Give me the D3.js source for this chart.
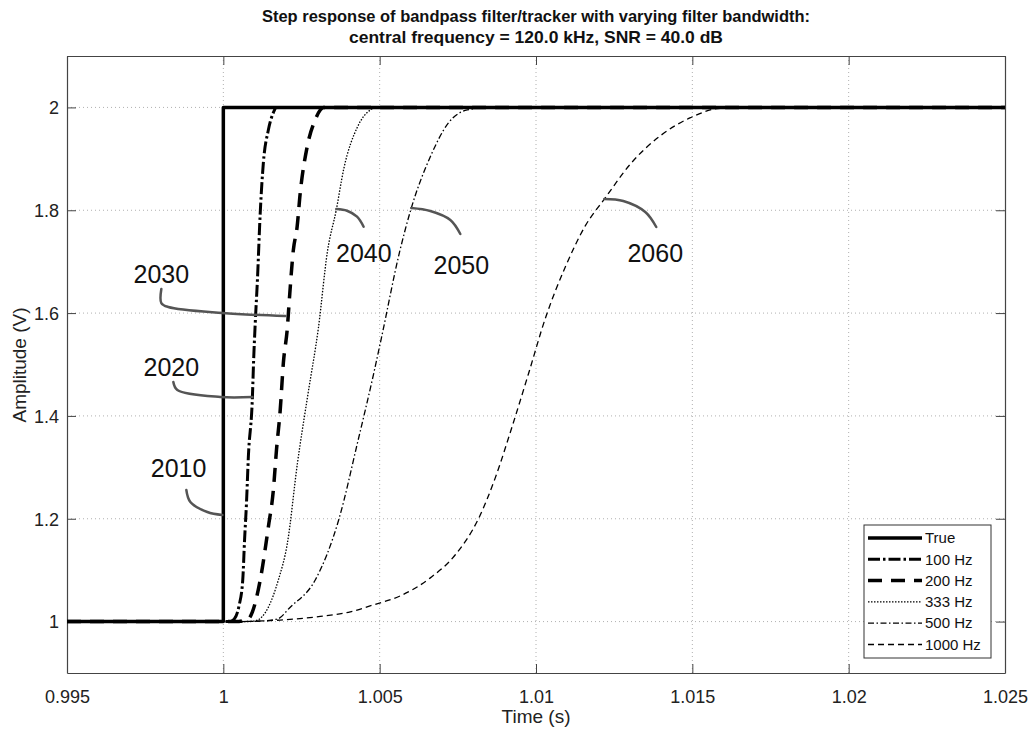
<!DOCTYPE html>
<html><head><meta charset="utf-8">
<script src="https://cdn.jsdelivr.net/npm/d3@7"></script>
<style>body{margin:0;background:#fff;} svg{display:block;font-family:"Liberation Sans",Arial,sans-serif;}</style>
</head><body><svg id="c" width="1029" height="730"></svg>
<script>
// ---- data ----
const xTicks = [0.995, 1, 1.005, 1.01, 1.015, 1.02, 1.025];
const xTickLabels = ["0.995", "1", "1.005", "1.01", "1.015", "1.02", "1.025"];
const yTicks = [1, 1.2, 1.4, 1.6, 1.8, 2];
const yTickLabels = ["1", "1.2", "1.4", "1.6", "1.8", "2"];
const seriesNames = ["True", "100 Hz", "200 Hz", "333 Hz", "500 Hz", "1000 Hz"];

const trueT = [0.995, 1.0, 1.0, 1.025];
const trueV = [1, 1, 2, 2];

const hz100T = [0.995, 1.0002, 1.00035, 1.0005, 1.00062, 1.00068, 1.00074, 1.0008, 1.00093, 1.00097, 1.00102, 1.00109, 1.00118, 1.00128, 1.00144, 1.0016, 1.0017, 1.025];
const hz100V = [1, 1.0, 1.005, 1.03, 1.08, 1.16, 1.23, 1.32, 1.437, 1.51, 1.58, 1.664, 1.795, 1.892, 1.956, 1.99, 2.0, 2.0];

const hz200T = [0.995, 1.0004, 1.0008, 1.00093, 1.00118, 1.00144, 1.0016, 1.0017, 1.00182, 1.00192, 1.00205, 1.00211, 1.00224, 1.00236, 1.00246, 1.00268, 1.00294, 1.0031, 1.0032, 1.025];
const hz200V = [1, 1.0, 1.005, 1.019, 1.081, 1.184, 1.256, 1.334, 1.412, 1.503, 1.573, 1.625, 1.723, 1.768, 1.834, 1.923, 1.976, 1.995, 2.0, 2.0];

const hz333T = [0.995, 1.0002, 1.0008, 1.00109, 1.00176, 1.00205, 1.00237, 1.0027, 1.00304, 1.00333, 1.00361, 1.00385, 1.00429, 1.0047, 1.0049, 1.025];
const hz333V = [1, 1.0, 1.0, 1.003, 1.081, 1.153, 1.308, 1.44, 1.571, 1.72, 1.80, 1.88, 1.962, 1.995, 2.0, 2.0];

const hz500T = [0.995, 1.0003, 1.0012, 1.00173, 1.00214, 1.00294, 1.0037, 1.0043, 1.0048, 1.00505, 1.00563, 1.00601, 1.00662, 1.0072, 1.0078, 1.0085, 1.025];
const hz500V = [1, 1.0, 1.001, 1.005, 1.028, 1.081, 1.20, 1.35, 1.48, 1.55, 1.717, 1.804, 1.904, 1.97, 1.995, 2.0, 2.0];

const hz1000T = [0.995, 1.0003, 1.00182, 1.0031, 1.00406, 1.00477, 1.00566, 1.00662, 1.00742, 1.00816, 1.0087, 1.00924, 1.00975, 1.0103, 1.01094, 1.01158, 1.01219, 1.01302, 1.01398, 1.01494, 1.0159, 1.025];
const hz1000V = [1, 1.0, 1.003, 1.01, 1.019, 1.032, 1.05, 1.085, 1.13, 1.2, 1.28, 1.38, 1.48, 1.59, 1.69, 1.77, 1.822, 1.89, 1.945, 1.98, 1.998, 2.0];

// annotations (data coords)
const annoLabels = ["2010", "2020", "2030", "2040", "2050", "2060"];
const annoTextT = [0.998570, 0.998337, 0.998017, 1.004493, 1.007611, 1.013815];
const annoTextV = [1.2987, 1.4951, 1.676, 1.7169, 1.6935, 1.7169];
const annoLeaderT = [
  [0.998817, 0.998945, 0.999488, 0.999968],
  [0.998401, 0.998529, 0.999904, 1.000927],
  [0.998017, 0.998017, 0.998241, 0.999968, 1.001983],
  [1.003614, 1.003956, 1.004276, 1.004487],
  [1.006012, 1.006620, 1.00726, 1.00758],
  [1.012184, 1.012792, 1.013495, 1.013847]
];
const annoLeaderV = [
  [1.2559, 1.2326, 1.2131, 1.2073],
  [1.466, 1.4504, 1.4368, 1.4368],
  [1.6468, 1.6196, 1.6118, 1.6002, 1.5943],
  [1.8024, 1.7991, 1.7875, 1.768],
  [1.8044, 1.7985, 1.781, 1.7538],
  [1.8219, 1.818, 1.7966, 1.7674]
];

// ---- layout ----
const svg = d3.select("#c");
const L = 67, R = 1005, T = 56, B = 673;
const x = d3.scaleLinear().domain([0.995, 1.025]).range([L, R]);
const y = d3.scaleLinear().domain([0.9, 2.1]).range([B, T]);

const styles = [
  {w: 3.5, dash: null},
  {w: 3, dash: "12,3,2.5,3"},
  {w: 3.5, dash: "14,9"},
  {w: 1.3, dash: "1.5,1.5"},
  {w: 1.3, dash: "6,2.5,1.5,2.5"},
  {w: 1.3, dash: "6,4"}
];
const seriesT = [trueT, hz100T, hz200T, hz333T, hz500T, hz1000T];
const seriesV = [trueV, hz100V, hz200V, hz333V, hz500V, hz1000V];

// grid
const grid = svg.append("g");
grid.selectAll(".gx").data(xTicks.slice(1, -1)).join("line")
  .attr("x1", d => x(d)).attr("x2", d => x(d)).attr("y1", T).attr("y2", B)
  .attr("stroke", "#b0b0b0").attr("stroke-width", 1).attr("stroke-dasharray", "1,3");
grid.selectAll(".gy").data(yTicks).join("line")
  .attr("x1", L).attr("x2", R).attr("y1", d => y(d)).attr("y2", d => y(d))
  .attr("stroke", "#b0b0b0").attr("stroke-width", 1).attr("stroke-dasharray", "1,3");

// axes with inner ticks
const tickLen = 9;
const axB = svg.append("g").attr("transform", `translate(0,${B})`)
  .call(d3.axisBottom(x).tickValues(xTicks).tickFormat((d, i) => xTickLabels[i]).tickSizeInner(-tickLen).tickSizeOuter(0).tickPadding(17));
const axT = svg.append("g").attr("transform", `translate(0,${T})`)
  .call(d3.axisTop(x).tickValues(xTicks).tickFormat("").tickSizeInner(-tickLen).tickSizeOuter(0));
const axL = svg.append("g").attr("transform", `translate(${L},0)`)
  .call(d3.axisLeft(y).tickValues(yTicks).tickFormat((d, i) => yTickLabels[i]).tickSizeInner(-tickLen).tickSizeOuter(0).tickPadding(8));
const axR = svg.append("g").attr("transform", `translate(${R},0)`)
  .call(d3.axisRight(y).tickValues(yTicks).tickFormat("").tickSizeInner(-tickLen).tickSizeOuter(0));
[axB, axT, axL, axR].forEach(a => {
  a.select(".domain").attr("stroke", "#444").attr("stroke-width", 1.2);
  a.selectAll(".tick line").attr("stroke", "#444");
  a.selectAll("text").attr("font-size", 18).attr("fill", "#222").attr("font-family", '"Liberation Sans",Arial,sans-serif');
});
axL.selectAll(".tick text").attr("dy", "0.35em");

// series
const plot = svg.append("g");
seriesT.forEach((ts, i) => {
  const pts = ts.map((t, j) => [t, seriesV[i][j]]);
  plot.append("path").datum(pts)
    .attr("d", d3.line().x(d => x(d[0])).y(d => y(d[1])).curve(i === 0 ? d3.curveLinear : d3.curveMonotoneX))
    .attr("fill", "none").attr("stroke", "#000")
    .attr("stroke-width", styles[i].w)
    .attr("stroke-dasharray", styles[i].dash)
    .attr("stroke-linejoin", "round");
});

// annotations
const anno = svg.append("g");
annoLabels.forEach((lab, i) => {
  const pts = annoLeaderT[i].map((t, j) => [t, annoLeaderV[i][j]]);
  anno.append("path").datum(pts)
    .attr("d", d3.line().x(d => x(d[0])).y(d => y(d[1])).curve(d3.curveCatmullRom))
    .attr("fill", "none").attr("stroke", "#555").attr("stroke-width", 2.5).attr("stroke-linecap", "round");
  anno.append("text").attr("x", x(annoTextT[i])).attr("y", y(annoTextV[i]))
    .attr("text-anchor", "middle").attr("dominant-baseline", "central")
    .attr("font-size", 25).attr("fill", "#111").text(lab);
});

// legend
const lg = svg.append("g");
const lgX = 864, lgY = 525, lgW = 127, lgH = 133, rowH = 21.3;
lg.append("rect").attr("x", lgX).attr("y", lgY).attr("width", lgW).attr("height", lgH)
  .attr("fill", "#fff").attr("stroke", "#333").attr("stroke-width", 1);
seriesNames.forEach((n, i) => {
  const cy = lgY + 13 + i * rowH;
  lg.append("line").attr("x1", lgX + 4).attr("x2", lgX + 58).attr("y1", cy).attr("y2", cy)
    .attr("stroke", "#000").attr("stroke-width", styles[i].w).attr("stroke-dasharray", styles[i].dash);
  lg.append("text").attr("x", lgX + 61).attr("y", cy).attr("dy", "0.35em")
    .attr("font-size", 15).attr("fill", "#111").text(n);
});

// title
svg.append("text").attr("x", 536).attr("y", 22).attr("text-anchor", "middle")
  .attr("font-weight", "bold").attr("font-size", 17).attr("fill", "#111")
  .attr("textLength", 548).attr("lengthAdjust", "spacingAndGlyphs")
  .text("Step response of bandpass filter/tracker with varying filter bandwidth:");
svg.append("text").attr("x", 536).attr("y", 43).attr("text-anchor", "middle")
  .attr("font-weight", "bold").attr("font-size", 17).attr("fill", "#111")
  .attr("textLength", 374).attr("lengthAdjust", "spacingAndGlyphs")
  .text("central frequency = 120.0 kHz, SNR = 40.0 dB");

// axis labels
svg.append("text").attr("x", 536).attr("y", 723).attr("text-anchor", "middle")
  .attr("font-size", 19).attr("fill", "#222").text("Time (s)");
svg.append("text").attr("transform", "translate(26,365) rotate(-90)").attr("text-anchor", "middle")
  .attr("font-size", 19).attr("fill", "#222").text("Amplitude (V)");
</script></body></html>
